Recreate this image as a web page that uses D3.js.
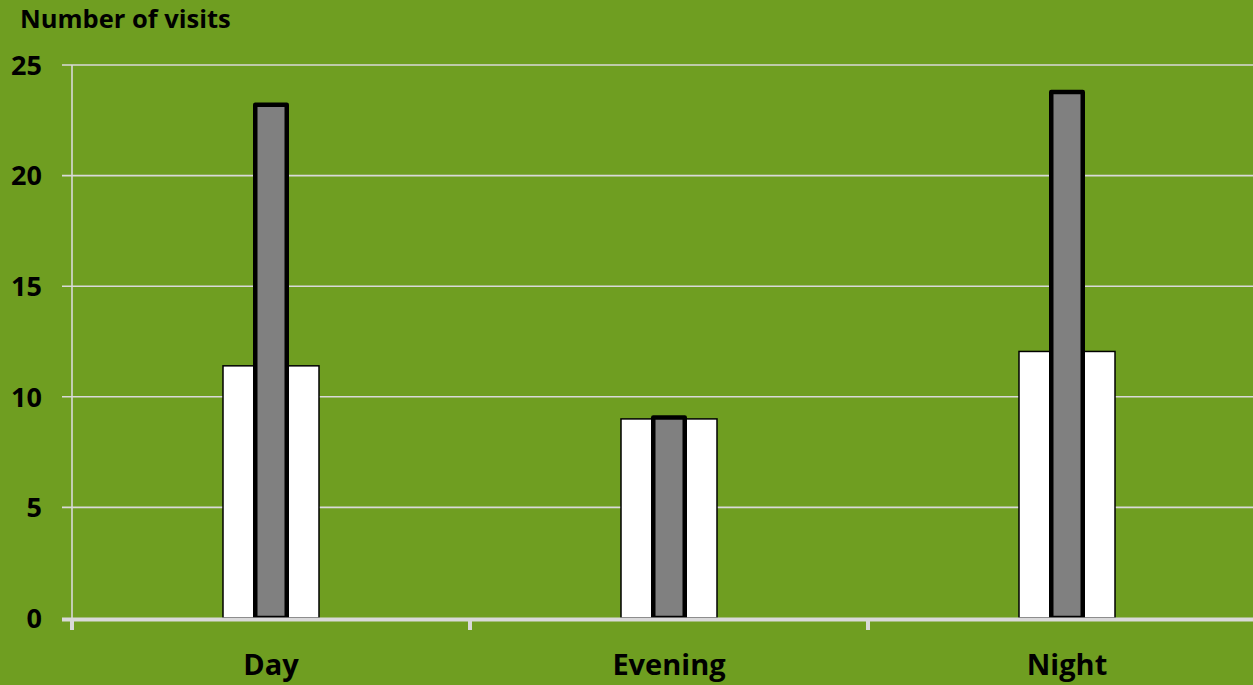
<!DOCTYPE html>
<html>
<head>
<meta charset="utf-8">
<script src="https://cdn.jsdelivr.net/npm/d3@7"></script>
<style>
  html, body { margin: 0; padding: 0; background: #6f9e21; }
  svg { display: block; }
  text { font-family: "Open Sans", Lato, sans-serif; font-weight: bold; fill: #000; }
</style>
</head>
<body>
<svg id="chart" width="1253" height="685"></svg>
<script>
// Visits per time of day, two groups
const categories = ["Day", "Evening", "Night"];
const groupWide = [11.4, 9.0, 12.05];
const groupNarrow = [23.2, 9.06, 23.78];
const yTicks = [0, 5, 10, 15, 20, 25];
const yTitle = "Number of visits";

const W = 1253, H = 685;
const bg = "#6f9e21";
const gridColor = "#d9d9d9";

const svg = d3.select("#chart");
svg.append("rect").attr("width", W).attr("height", H).attr("fill", bg);

const x = d3.scaleBand().domain(categories).range([72, 1266]).padding(0);
const y = d3.scaleLinear().domain([0, 25]).range([618, 65]);

// horizontal gridlines with short left ticks
svg.append("g").selectAll("line").data(yTicks.filter(d => d > 0)).join("line")
  .attr("x1", 62).attr("x2", W)
  .attr("y1", d => y(d)).attr("y2", d => y(d))
  .attr("stroke", gridColor).attr("stroke-width", 1.6);

// vertical axis line
svg.append("line").attr("x1", 72).attr("x2", 72).attr("y1", y(25)).attr("y2", y(0))
  .attr("stroke", gridColor).attr("stroke-width", 1.6);

// y tick labels
svg.append("g").selectAll("text").data(yTicks).join("text")
  .attr("x", 42).attr("y", d => y(d)).attr("dy", "0.36em")
  .attr("text-anchor", "end").attr("font-size", 27).text(d => d);

// axis title
svg.append("text").attr("x", 20).attr("y", 28).attr("font-size", 25.5).text(yTitle);

const cx = c => x(c) + x.bandwidth() / 2;
const wideW = 96, narrowW = 31.5;

// wide white bars
svg.append("g").selectAll("rect").data(categories).join("rect")
  .attr("x", c => cx(c) - wideW / 2)
  .attr("y", (c, i) => y(groupWide[i]))
  .attr("width", wideW)
  .attr("height", (c, i) => y(0) - y(groupWide[i]))
  .attr("fill", "#ffffff").attr("stroke", "#000").attr("stroke-width", 1.5);

// narrow grey bars
svg.append("g").selectAll("rect").data(categories).join("rect")
  .attr("x", c => cx(c) - narrowW / 2)
  .attr("y", (c, i) => y(groupNarrow[i]))
  .attr("width", narrowW)
  .attr("height", (c, i) => y(0) - y(groupNarrow[i]))
  .attr("fill", "#808080").attr("stroke", "#000").attr("stroke-width", 4.5)
  .attr("stroke-linejoin", "round");

// x axis baseline and ticks
svg.append("line").attr("x1", 62).attr("x2", W).attr("y1", 619.5).attr("y2", 619.5)
  .attr("stroke", gridColor).attr("stroke-width", 4);
const boundaries = [0, 1, 2, 3].map(i => 72 + i * x.bandwidth());
svg.append("g").selectAll("line").data(boundaries).join("line")
  .attr("x1", d => d).attr("x2", d => d).attr("y1", 619).attr("y2", 630)
  .attr("stroke", gridColor).attr("stroke-width", 4);

// category labels
svg.append("g").selectAll("text").data(categories).join("text")
  .attr("x", c => cx(c)).attr("y", 675)
  .attr("text-anchor", "middle").attr("font-size", 29).text(c => c);
</script>
</body>
</html>
